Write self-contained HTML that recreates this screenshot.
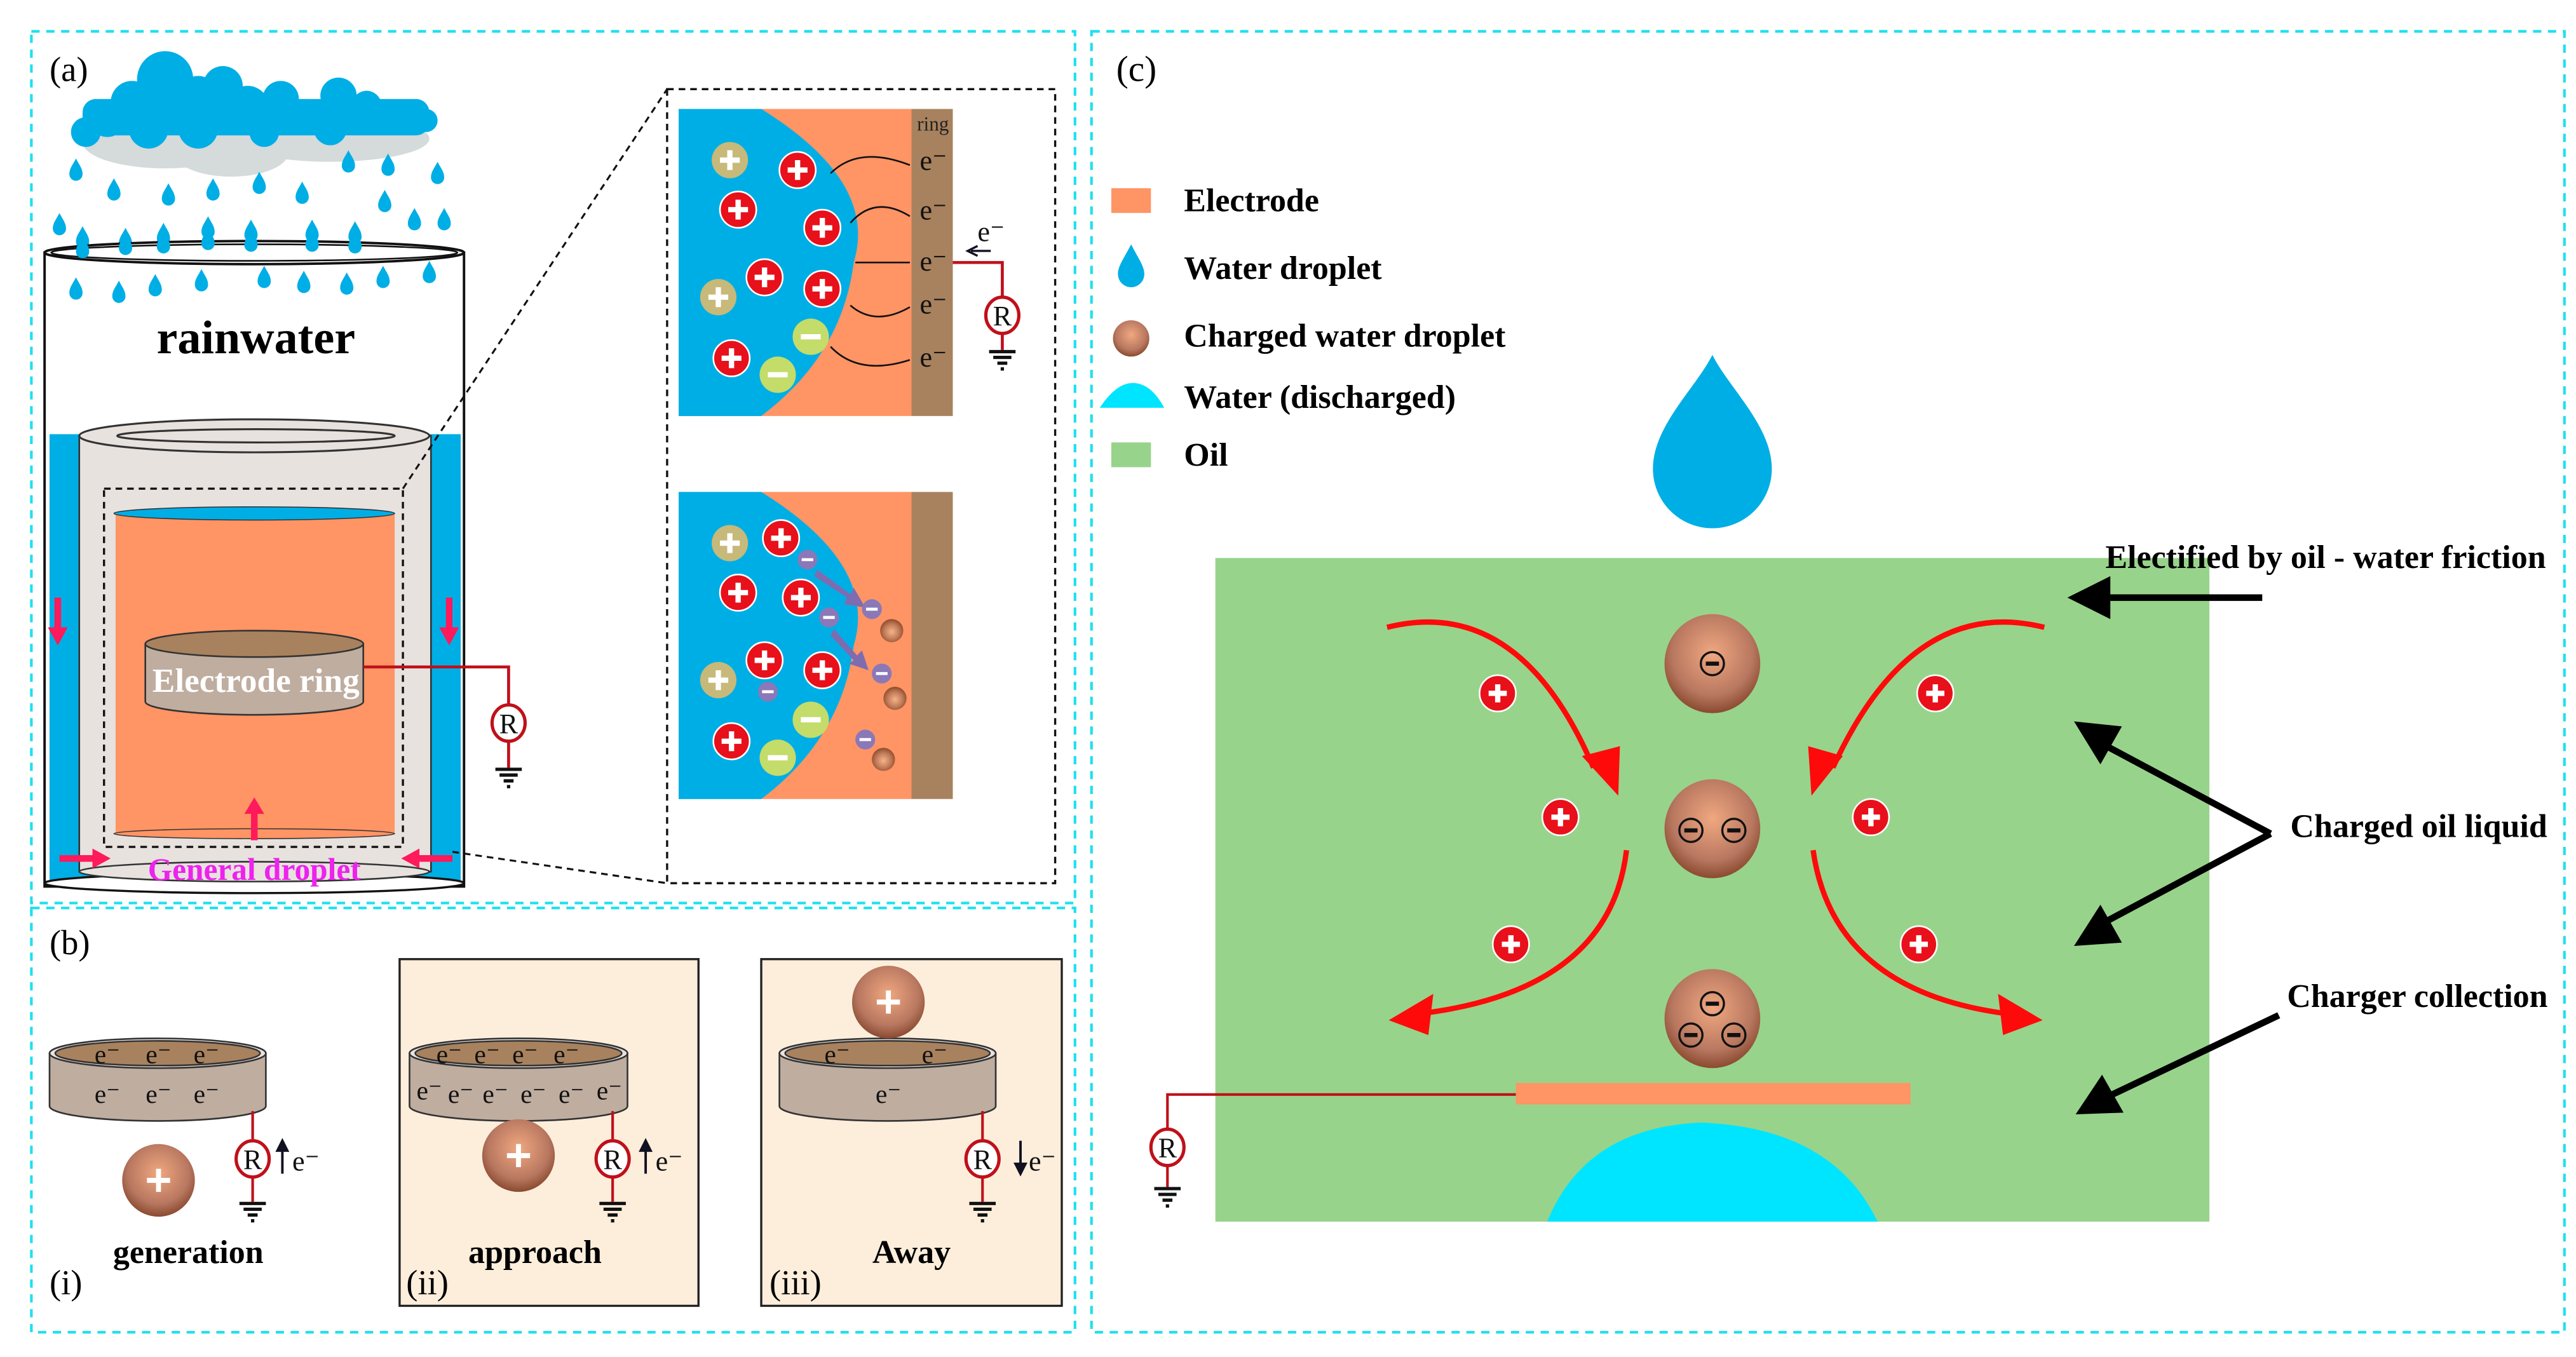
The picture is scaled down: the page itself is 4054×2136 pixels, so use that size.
<!DOCTYPE html>
<html><head><meta charset="utf-8"><style>
html,body{margin:0;padding:0;background:#fff;}
svg{display:block;}
text{font-family:"Liberation Serif",serif;}
</style></head><body>
<svg width="4054" height="2136" viewBox="0 0 1560 822" preserveAspectRatio="none" xmlns="http://www.w3.org/2000/svg">
<defs>
<radialGradient id="bg" cx="50%" cy="55%" r="55%">
<stop offset="0" stop-color="#f6b488"/><stop offset="0.6" stop-color="#c07a58"/><stop offset="1" stop-color="#8e4a2c"/>
</radialGradient>
<radialGradient id="bg2" cx="50%" cy="40%" r="60%">
<stop offset="0" stop-color="#f0a880"/><stop offset="0.7" stop-color="#b87760"/><stop offset="1" stop-color="#8a4a30"/>
</radialGradient>
<g id="pl"><circle r="11" fill="#e8101a" stroke="#fff" stroke-width="1"/><path d="M-6,0H6M0,-6V6" stroke="#fff" stroke-width="3.2"/></g>
<g id="pls"><circle r="11" fill="#e8101a" stroke="#fff" stroke-width="1"/><path d="M-5.5,0H5.5M0,-5.5V5.5" stroke="#fff" stroke-width="3.2"/></g>
<g id="kp"><circle r="11" fill="#c7b97a"/><path d="M-6,0H6M0,-6V6" stroke="#fff" stroke-width="3.2"/></g>
<g id="gm"><circle r="11" fill="#c3dc6a"/><path d="M-6,0H6" stroke="#fff" stroke-width="3.2"/></g>
<g id="pm"><circle r="6" fill="#8a78b8"/><path d="M-3.5,0H3.5" stroke="#fff" stroke-width="1.8"/></g>
<path id="drop" d="M0,-8 C2,-4 4,-2 4,1.5 A4,4 0 1 1 -4,1.5 C-4,-2 -2,-4 0,-8Z" fill="#00aee6"/>
<g id="gnd"><path d="M-8,0H8M-5.5,3.5H5.5M-3,7H3M-1,10.5H1" stroke="#111" stroke-width="2"/></g>
<g id="R"><ellipse rx="10" ry="11" fill="#fff" stroke="#c0101a" stroke-width="2"/><text x="0" y="6" font-size="17" text-anchor="middle" fill="#111">R</text></g>
<g id="mn"><circle r="7" fill="none" stroke="#111" stroke-width="1.3"/><path d="M-4,0H4" stroke="#111" stroke-width="2.5"/></g>
</defs>

<g fill="none" stroke="#1ee0ee" stroke-width="1.6" stroke-dasharray="5,4">
<rect x="19" y="19" width="632" height="528"/>
<rect x="19" y="550" width="632" height="257"/>
<rect x="661" y="19" width="892" height="788"/>
</g>

<!-- (a) -->
<text x="30" y="49" font-size="21">(a)</text>
<g fill="#d5dada">
<ellipse cx="100" cy="86" rx="50" ry="16"/><ellipse cx="140" cy="92" rx="35" ry="15"/><ellipse cx="200" cy="84" rx="60" ry="14"/>
</g>
<g fill="#00aee6">
<circle cx="52" cy="80" r="9"/><circle cx="65" cy="72" r="11"/><circle cx="80" cy="62" r="13"/><circle cx="100" cy="48" r="17"/>
<circle cx="120" cy="58" r="12"/><circle cx="135" cy="52" r="12"/><circle cx="150" cy="65" r="13"/><circle cx="170" cy="60" r="11"/>
<circle cx="185" cy="70" r="10"/><circle cx="205" cy="58" r="11"/><circle cx="222" cy="64" r="9"/><circle cx="240" cy="72" r="9"/>
<circle cx="258" cy="73" r="7"/><circle cx="90" cy="78" r="12"/><circle cx="120" cy="78" r="12"/><circle cx="160" cy="80" r="9"/><circle cx="200" cy="78" r="10"/>
<rect x="50" y="60" width="210" height="22" rx="8"/>
</g>
<g>
<use href="#drop" x="46" y="104"/><use href="#drop" x="69" y="116"/><use href="#drop" x="102" y="119"/><use href="#drop" x="129" y="116"/>
<use href="#drop" x="157" y="112"/><use href="#drop" x="183" y="118"/><use href="#drop" x="211" y="99"/><use href="#drop" x="235" y="101"/>
<use href="#drop" x="265" y="106"/><use href="#drop" x="233" y="123"/><use href="#drop" x="251" y="134"/><use href="#drop" x="269" y="134"/>
<use href="#drop" x="36" y="137"/><use href="#drop" x="50" y="145"/><use href="#drop" x="76" y="146"/><use href="#drop" x="99" y="143"/>
<use href="#drop" x="126" y="139"/><use href="#drop" x="152" y="141"/><use href="#drop" x="189" y="141"/><use href="#drop" x="215" y="142"/>
</g>
<rect x="27" y="153" width="254" height="384" fill="#fff" stroke="#111" stroke-width="1.5"/>
<rect x="30" y="263" width="249" height="272" fill="#00aee6"/>
<ellipse cx="154" cy="535" rx="127" ry="6" fill="#fff" stroke="#111" stroke-width="1.3"/>
<ellipse cx="154" cy="153" rx="127" ry="7" fill="#fff" stroke="#111" stroke-width="1.5"/>
<ellipse cx="154" cy="153" rx="123" ry="5" fill="none" stroke="#111" stroke-width="1"/>
<g><use href="#drop" x="46" y="176"/><use href="#drop" x="72" y="178"/><use href="#drop" x="94" y="174"/><use href="#drop" x="122" y="171"/>
<use href="#drop" x="160" y="169"/><use href="#drop" x="184" y="172"/><use href="#drop" x="210" y="173"/><use href="#drop" x="232" y="169"/><use href="#drop" x="260" y="166"/>
<use href="#drop" x="50" y="151"/><use href="#drop" x="76" y="149"/><use href="#drop" x="99" y="148"/><use href="#drop" x="126" y="146"/><use href="#drop" x="152" y="147"/><use href="#drop" x="189" y="147"/><use href="#drop" x="215" y="148"/></g>
<text x="155" y="214" font-size="28.5" font-weight="bold" text-anchor="middle">rainwater</text>
<rect x="48" y="264" width="213" height="264" fill="#e8e2df" stroke="#333" stroke-width="1"/>
<ellipse cx="154" cy="528" rx="106" ry="6" fill="#e8e2df" stroke="#333" stroke-width="1"/>
<ellipse cx="154" cy="264" rx="106" ry="10" fill="#e8e2df" stroke="#333" stroke-width="1.2"/>
<ellipse cx="155" cy="264" rx="84" ry="4" fill="none" stroke="#333" stroke-width="1.2"/>
<rect x="70" y="311" width="169" height="194" fill="#ff9465"/>
<ellipse cx="154" cy="505" rx="85" ry="3" fill="#ff9465" stroke="#333" stroke-width="0.6"/>
<ellipse cx="154" cy="311" rx="85" ry="4" fill="#00aee6" stroke="#333" stroke-width="0.6"/>
<rect x="63" y="296" width="181" height="217" fill="none" stroke="#111" stroke-width="1.3" stroke-dasharray="4,3"/>
<path d="M88,390 V425 A66,8 0 0 0 220,425 V390Z" fill="#bfada0" stroke="#333" stroke-width="1"/>
<ellipse cx="154" cy="390" rx="66" ry="8" fill="#a8825e" stroke="#333" stroke-width="1"/>
<text x="155" y="419" font-size="20.5" font-weight="bold" fill="#fff" text-anchor="middle">Electrode ring</text>
<path d="M220,404 H308 V427" fill="none" stroke="#c0101a" stroke-width="1.8"/>
<path d="M308,448 V465" stroke="#c0101a" stroke-width="1.8"/>
<use href="#R" x="308" y="438"/>
<use href="#gnd" x="308" y="466"/>
<g fill="#ff1a5c" stroke="none">
<path d="M33,362 h4 v18 h4 l-6,11 l-6,-11 h4z"/>
<path d="M270,362 h4 v18 h4 l-6,11 l-6,-11 h4z"/>
<path d="M152,509 v-16 h-4 l6,-10 l6,10 h-4 v16z"/>
<path d="M36,518 h20 v-4 l11,6 l-11,6 v-4 h-20z"/>
<path d="M274,518 h-20 v-4 l-11,6 l11,6 v-4 h20z"/>
</g>
<text x="154" y="533" font-size="19" font-weight="bold" fill="#ee22ee" text-anchor="middle">General droplet</text>
<path d="M244,296 L404,54 M274,516 L404,535" stroke="#111" stroke-width="1.2" stroke-dasharray="4,3"/>
<rect x="404" y="54" width="235" height="481" fill="none" stroke="#111" stroke-width="1.3" stroke-dasharray="4,3"/>
<rect x="411" y="66" width="141" height="186" fill="#ff9465"/>
<path d="M411,66 H461 Q532,110 517,159 Q510,215 461,252 H411Z" fill="#00aee6"/>
<rect x="552" y="66" width="25" height="186" fill="#a8825e"/>
<text x="565" y="79" font-size="12" text-anchor="middle" fill="#222">ring</text>
<use href="#kp" x="442" y="97"/><use href="#kp" x="435" y="180"/>
<use href="#pl" x="483" y="103"/><use href="#pl" x="447" y="127"/><use href="#pl" x="498" y="138"/><use href="#pl" x="463" y="168"/><use href="#pl" x="498" y="175"/><use href="#pl" x="443" y="217"/>
<use href="#gm" x="491" y="204"/><use href="#gm" x="471" y="227"/>
<g fill="none" stroke="#111" stroke-width="1">
<path d="M503,105 Q520,88 551,100"/><path d="M515,135 Q530,118 551,131"/><path d="M518,159 H551"/><path d="M515,185 Q530,198 551,186"/><path d="M503,210 Q520,228 551,218"/>
</g>
<g font-size="17" fill="#111"><text x="557" y="103">e⁻</text><text x="557" y="133">e⁻</text><text x="557" y="164">e⁻</text><text x="557" y="190">e⁻</text><text x="557" y="222">e⁻</text>
<text x="592" y="146">e⁻</text></g>
<path d="M600,152 H588 M592,149 L586,152 L592,155" stroke="#112" stroke-width="1.3" fill="none"/>
<path d="M577,159 H607 V181 M607,202 V212" fill="none" stroke="#c0101a" stroke-width="1.8"/>
<use href="#R" x="607" y="191"/><use href="#gnd" x="607" y="213"/>
<rect x="411" y="298" width="141" height="186" fill="#ff9465"/>
<path d="M411,298 H461 Q532,342 517,391 Q510,447 461,484 H411Z" fill="#00aee6"/>
<rect x="552" y="298" width="25" height="186" fill="#a8825e"/>
<use href="#kp" x="442" y="329"/><use href="#kp" x="435" y="412"/>
<use href="#pl" x="473" y="326"/><use href="#pl" x="447" y="359"/><use href="#pl" x="485" y="362"/><use href="#pl" x="463" y="400"/><use href="#pl" x="498" y="406"/><use href="#pl" x="443" y="449"/>
<use href="#gm" x="491" y="436"/><use href="#gm" x="471" y="459"/>
<g fill="#7e6cb0"><path d="M495,345 L515,360 L517,356 L524,368 L511,366 L513,362 L493,349Z"/><path d="M505,381 L519,397 L522,394 L526,406 L514,402 L517,400 L503,385Z"/></g>
<use href="#pm" x="489" y="339"/><use href="#pm" x="502" y="374"/><use href="#pm" x="465" y="419"/><use href="#pm" x="528" y="369"/><use href="#pm" x="534" y="408"/><use href="#pm" x="524" y="448"/>
<circle cx="540" cy="382" r="7" fill="url(#bg)"/><circle cx="542" cy="423" r="7" fill="url(#bg)"/><circle cx="535" cy="460" r="7" fill="url(#bg)"/>

<!-- (b) -->
<text x="30" y="578" font-size="21">(b)</text>
<rect x="242" y="581" width="181" height="210" fill="#fdeedc" stroke="#222" stroke-width="1.3"/>
<rect x="461" y="581" width="182" height="210" fill="#fdeedc" stroke="#222" stroke-width="1.3"/>
<g stroke="#333" stroke-width="1">
<path d="M30,638 V670 A65.5,9 0 0 0 161,670 V638Z" fill="#bfada0"/>
<ellipse cx="95.5" cy="638" rx="65.5" ry="9" fill="#e8e2df"/><ellipse cx="95.5" cy="638" rx="62" ry="7.5" fill="#a8825e"/>
<path d="M248,638 V670 A66,9 0 0 0 380,670 V638Z" fill="#bfada0"/>
<ellipse cx="314" cy="638" rx="66" ry="9" fill="#e8e2df"/><ellipse cx="314" cy="638" rx="62.5" ry="7.5" fill="#a8825e"/>
<path d="M472,638 V670 A65.5,9 0 0 0 603,670 V638Z" fill="#bfada0"/>
<ellipse cx="537.5" cy="638" rx="65.5" ry="9" fill="#e8e2df"/><ellipse cx="537.5" cy="638" rx="62" ry="7.5" fill="#a8825e"/>
</g>
<g font-size="16" fill="#111" text-anchor="middle">
<text x="65" y="644">e⁻</text><text x="96" y="644">e⁻</text><text x="125" y="644">e⁻</text>
<text x="65" y="668">e⁻</text><text x="96" y="668">e⁻</text><text x="125" y="668">e⁻</text>
<text x="272" y="644">e⁻</text><text x="295" y="644">e⁻</text><text x="318" y="644">e⁻</text><text x="343" y="644">e⁻</text>
<text x="260" y="666">e⁻</text><text x="279" y="668">e⁻</text><text x="300" y="668">e⁻</text><text x="323" y="668">e⁻</text><text x="346" y="668">e⁻</text><text x="369" y="666">e⁻</text>
<text x="507" y="644">e⁻</text><text x="566" y="644">e⁻</text><text x="538" y="668">e⁻</text>
</g>
<g stroke="#c0101a" stroke-width="1.6" fill="none">
<path d="M153,673 V690 M153,712 V728"/><path d="M371,673 V690 M371,712 V728"/><path d="M595,673 V690 M595,712 V728"/>
</g>
<use href="#R" x="153" y="702"/><use href="#R" x="371" y="702"/><use href="#R" x="595" y="702"/>
<use href="#gnd" x="153" y="729"/><use href="#gnd" x="371" y="729"/><use href="#gnd" x="595" y="729"/>
<g stroke="#112" stroke-width="1.5" fill="#112">
<path d="M171,711 V694"/><path d="M168,697 L171,691 L174,697Z"/>
<path d="M391,711 V694"/><path d="M388,697 L391,691 L394,697Z"/>
<path d="M618,691 V708"/><path d="M615,705 L618,711 L621,705Z"/>
</g>
<g font-size="17" fill="#111"><text x="177" y="709">e⁻</text><text x="397" y="709">e⁻</text><text x="623" y="709">e⁻</text></g>
<circle cx="96" cy="715" r="22" fill="url(#bg2)"/><path d="M89,715H103M96,708V722" stroke="#fff" stroke-width="3"/>
<circle cx="314" cy="700" r="22" fill="url(#bg2)"/><path d="M307,700H321M314,693V707" stroke="#fff" stroke-width="3"/>
<circle cx="538" cy="607" r="22" fill="url(#bg2)"/><path d="M531,607H545M538,600V614" stroke="#fff" stroke-width="3"/>
<g font-size="20" font-weight="bold" text-anchor="middle"><text x="114" y="765">generation</text><text x="324" y="765">approach</text><text x="552" y="765">Away</text></g>
<g font-size="21"><text x="30" y="784">(i)</text><text x="246" y="784">(ii)</text><text x="466" y="784">(iii)</text></g>

<!-- (c) -->
<text x="676" y="49" font-size="22">(c)</text>
<rect x="673" y="114" width="24" height="15" fill="#ff9465"/>
<path d="M685,148 C689,156 693,161 693,166 A8,8 0 1 1 677,166 C677,161 681,156 685,148Z" fill="#00aee6"/>
<circle cx="685" cy="205" r="11" fill="url(#bg2)"/>
<path d="M666,247 Q676,232 686,232 Q697,232 705,247Z" fill="#00e5ff"/>
<rect x="673" y="268" width="24" height="15" fill="#98d38b"/>
<g font-size="20" font-weight="bold"><text x="717" y="128">Electrode</text><text x="717" y="169">Water droplet</text><text x="717" y="210">Charged water droplet</text><text x="717" y="247">Water (discharged)</text><text x="717" y="282">Oil</text></g>
<path d="M1037,215 C1047,235 1073,258 1073,284 A36,36 0 1 1 1001,284 C1001,258 1027,235 1037,215Z" fill="#00aee6"/>
<rect x="736" y="338" width="602" height="402" fill="#98d38b"/>
<path d="M937,740 Q960,683 1030,680 Q1110,683 1137,740Z" fill="#00e5ff"/>
<rect x="918" y="656" width="239" height="13" fill="#ff9465"/>
<path d="M918,663 H707 V684 M707,706 V719" fill="none" stroke="#c0101a" stroke-width="1.6"/>
<use href="#R" x="707" y="695"/><use href="#gnd" x="707" y="720"/>
<ellipse cx="1037" cy="402" rx="29" ry="30" fill="url(#bg2)"/>
<ellipse cx="1037" cy="502" rx="29" ry="30" fill="url(#bg2)"/>
<ellipse cx="1037" cy="617" rx="29" ry="30" fill="url(#bg2)"/>
<use href="#mn" x="1037" y="402"/><use href="#mn" x="1024" y="503"/><use href="#mn" x="1050" y="503"/>
<use href="#mn" x="1037" y="608"/><use href="#mn" x="1024" y="627"/><use href="#mn" x="1050" y="627"/>
<g fill="none" stroke="#ff0a0a" stroke-width="3.2">
<path d="M840,380 Q920,360 965,465"/><path d="M1238,380 Q1158,360 1110,465"/>
<path d="M985,515 Q975,600 860,614"/><path d="M1098,515 Q1110,600 1215,614"/>
</g>
<g fill="#ff0a0a">
<path d="M958,458 L981,452 L980,482Z"/><path d="M1116,458 L1095,452 L1097,482Z"/>
<path d="M841,618 L868,602 L865,627Z"/><path d="M1237,618 L1210,602 L1213,627Z"/>
</g>
<use href="#pls" x="907" y="420"/><use href="#pls" x="945" y="495"/><use href="#pls" x="915" y="572"/>
<use href="#pls" x="1172" y="420"/><use href="#pls" x="1133" y="495"/><use href="#pls" x="1162" y="572"/>
<g stroke="#000" stroke-width="4" fill="none">
<path d="M1370,362 H1275"/><path d="M1375,505 L1272,450"/><path d="M1375,505 L1272,560"/><path d="M1380,615 L1275,665"/>
</g>
<g fill="#000">
<path d="M1252,362 L1278,349 L1278,375Z"/>
<path d="M1256,437 L1285,440 L1272,463Z"/>
<path d="M1256,573 L1272,548 L1285,571Z"/>
<path d="M1257,675 L1273,651 L1286,674Z"/>
</g>
<g font-size="20" font-weight="bold"><text x="1275" y="344">Electified by oil - water friction</text><text x="1387" y="507">Charged oil liquid</text><text x="1385" y="610">Charger collection</text></g>
</svg>
</body></html>
